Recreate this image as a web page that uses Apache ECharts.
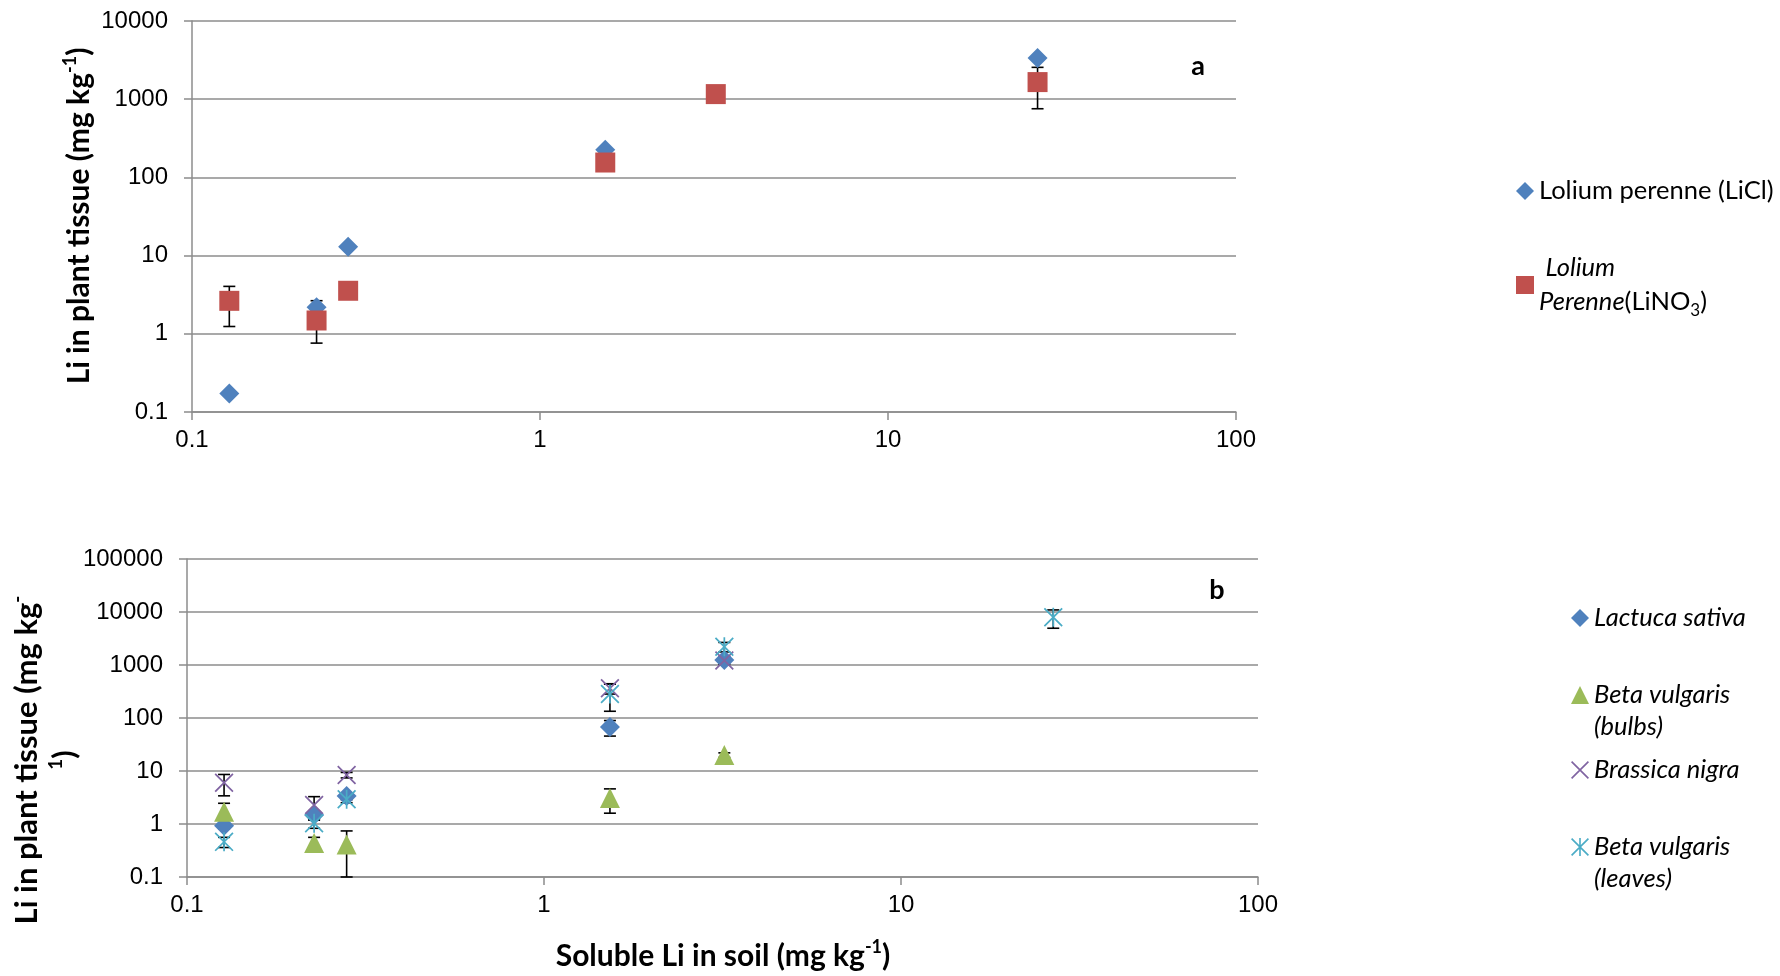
<!DOCTYPE html>
<html>
<head>
<meta charset="utf-8">
<script src="https://cdn.jsdelivr.net/npm/echarts@6/dist/echarts.min.js"></script>
<style>
html,body{margin:0;padding:0;background:#fff;}
#chart{width:1780px;height:976px;}
</style>
</head>
<body>
<div id="chart"></div>
<script>
// ---------- DATA ----------
// Panel a
const liclX = [0.128, 0.228, 0.281, 1.54, 26.9];
const liclY = [0.173, 2.19, 13.0, 225, 3355];
const liclErr = [0, 0.46, 0, 0, 0];

const lino3X = [0.128, 0.228, 0.281, 1.54, 3.2, 26.9];
const lino3Y = [2.64, 1.48, 3.55, 155, 1162, 1655];
const lino3Err = [1.4, 0.72, 0, 0, 0, 900];

// Panel b
const lactucaX = [0.127, 0.227, 0.28, 1.53, 3.2];
const lactucaY = [0.93, 1.48, 3.38, 67.6, 1242];
const lactucaErr = [0.12, 0.3, 0.5, 22, 150];

const bulbsX = [0.127, 0.227, 0.28, 1.53, 3.2];
const bulbsY = [1.7, 0.44, 0.41, 3.1, 20];
const bulbsErr = [0.76, 0.12, 0.33, 1.5, 2];

const brassicaX = [0.127, 0.227, 0.28, 1.53, 3.2];
const brassicaY = [6.0, 2.28, 8.4, 363, 1220];
const brassicaErr = [2.6, 1.0, 1.0, 80, 200];

const leavesX = [0.127, 0.227, 0.28, 1.53, 3.2, 26.7];
const leavesY = [0.46, 1.03, 2.92, 284, 2215, 7940];
const leavesErr = [0.1, 0.2, 0.4, 150, 450, 3000];

const xTickLabels = ['0.1', '1', '10', '100'];
const yTickLabelsA = ['0.1', '1', '10', '100', '1000', '10000'];
const yTickLabelsB = ['0.1', '1', '10', '100', '1000', '10000', '100000'];

// ---------- HELPERS ----------
function pts(xs, ys) { return xs.map((x, i) => [x, ys[i]]); }
function errPts(xs, ys, es) { return xs.map((x, i) => [x, ys[i], es[i]]).filter(d => d[2] > 0); }
function tickFmt(labels) {
  return function (v) {
    const k = Math.round(Math.log10(v)) + 1;
    return labels[k] !== undefined ? labels[k] : '';
  };
}
function errRender(yMin) {
  return function (params, api) {
    const x = api.value(0), y = api.value(1), e = api.value(2);
    const lo = Math.max(y - e, yMin);
    const t = api.coord([x, y + e]);
    const b = api.coord([x, lo]);
    const w = 6;
    const st = { stroke: '#000', lineWidth: 1.6 };
    return {
      type: 'group',
      children: [
        { type: 'line', shape: { x1: t[0], y1: t[1], x2: b[0], y2: b[1] }, style: st },
        { type: 'line', shape: { x1: t[0] - w, y1: t[1], x2: t[0] + w, y2: t[1] }, style: st },
        { type: 'line', shape: { x1: b[0] - w, y1: b[1], x2: b[0] + w, y2: b[1] }, style: st }
      ]
    };
  };
}

const X_PATH = 'path://M0,1.3L1.3,0L20,18.7L18.7,20Z M18.7,0L20,1.3L1.3,20L0,18.7Z';
const AST_PATH = 'path://M0,1.3L1.3,0L20,18.7L18.7,20Z M18.7,0L20,1.3L1.3,20L0,18.7Z M9.1,0L10.9,0L10.9,20L9.1,20Z';

const C = { blue: '#4F81BD', red: '#C0504D', green: '#9BBB59', purple: '#8064A2', cyan: '#4BACC6' };
const GRID_COL = '#8c8c8c';
const TICK_FONT = 'Liberation Sans';
const TXT_FONT = 'Lato';
const LEG_FS = 25.5;

function xAxisCfg(gi) {
  return {
    gridIndex: gi, type: 'log', logBase: 10, min: 0.1, max: 100,
    axisLine: { show: true, lineStyle: { color: GRID_COL, width: 1.5 } },
    axisTick: { show: true, inside: false, length: 8, lineStyle: { color: GRID_COL, width: 1.5 } },
    minorTick: { show: false },
    splitLine: { show: false },
    axisLabel: { formatter: tickFmt(xTickLabels), fontFamily: TICK_FONT, fontSize: 24, color: '#000', margin: 16 }
  };
}
function yAxisCfg(gi, max, labels) {
  return {
    gridIndex: gi, type: 'log', logBase: 10, min: 0.1, max: max,
    axisLine: { show: true, onZero: false, lineStyle: { color: GRID_COL, width: 1.5 } },
    axisTick: { show: true, inside: false, length: 8, lineStyle: { color: GRID_COL, width: 1.5 } },
    minorTick: { show: false },
    splitLine: { show: true, lineStyle: { color: GRID_COL, width: 1.5 } },
    axisLabel: { formatter: tickFmt(labels), fontFamily: TICK_FONT, fontSize: 24, color: '#000', margin: 24 }
  };
}

function legendCfg(name, left, top, fmt, lh) {
  lh = lh || 32;
  return {
    data: [name], left: left, top: top, padding: 0, orient: 'vertical',
    itemWidth: 18, itemHeight: 18, itemGap: 0, selectedMode: false,
    textStyle: {
      fontFamily: TXT_FONT, fontSize: LEG_FS, color: '#000', lineHeight: lh,
      rich: {
        i: { fontFamily: TXT_FONT, fontSize: LEG_FS, fontStyle: 'italic', color: '#000', lineHeight: lh },
        n: { fontFamily: TXT_FONT, fontSize: LEG_FS, color: '#000', lineHeight: lh },
        sub: { fontFamily: TXT_FONT, fontSize: 17, color: '#000', verticalAlign: 'bottom', lineHeight: 20 },
        e: { fontFamily: TXT_FONT, fontSize: LEG_FS, lineHeight: lh }
      }
    },
    formatter: fmt || undefined
  };
}

function titleRich(fs, lh) {
  return {
    b: { fontFamily: TXT_FONT, fontWeight: 'bold', fontSize: fs, fill: '#000', lineHeight: lh },
    s: { fontFamily: TXT_FONT, fontWeight: 'bold', fontSize: Math.round(fs * 0.6), fill: '#000', lineHeight: Math.round(fs * 0.6), verticalAlign: 'top' }
  };
}

const option = {
  animation: false,
  backgroundColor: '#fff',
  grid: [
    { left: 192, top: 21, width: 1044, height: 391 },
    { left: 187, top: 559, width: 1071, height: 318 }
  ],
  xAxis: [xAxisCfg(0), xAxisCfg(1)],
  yAxis: [yAxisCfg(0, 10000, yTickLabelsA), yAxisCfg(1, 100000, yTickLabelsB)],
  legend: [
    legendCfg('Lolium perenne (LiCl)', 1516, 175),
    legendCfg('Lolium Perenne (LiNO3)', 1516, 251, () => ' {i|Lolium}\n{i|Perenne}{n|(LiNO}{sub|3}{n|)}', 34),
    legendCfg('Lactuca sativa', 1571, 602, () => '{i|Lactuca sativa}'),
    legendCfg('Beta vulgaris (bulbs)', 1571, 647, () => '{e| }\n{i|Beta vulgaris}\n{i|(bulbs)}'),
    legendCfg('Brassica nigra', 1571, 754, () => '{i|Brassica nigra}'),
    legendCfg('Beta vulgaris (leaves)', 1571, 799, () => '{e| }\n{i|Beta vulgaris}\n{i|(leaves)}')
  ],
  graphic: [
    {
      type: 'text', x: 79, y: 216, rotation: Math.PI / 2,
      style: { text: '{b|Li in plant tissue (mg kg}{s|-1}{b|)}', textAlign: 'center', textVerticalAlign: 'middle', rich: titleRich(30, 36) }
    },
    {
      type: 'text', x: 46, y: 760, rotation: Math.PI / 2,
      style: { text: '{b|Li in plant tissue (mg kg}{s|-}\n{s|1}{b|)}', textAlign: 'center', textVerticalAlign: 'middle', rich: titleRich(31, 38) }
    },
    {
      type: 'text', x: 723, y: 956,
      style: { text: '{b|Soluble Li in soil (mg kg}{s|-1}{b|)}', textAlign: 'center', textVerticalAlign: 'middle', rich: titleRich(30, 36) }
    },
    { type: 'text', x: 1198, y: 66, style: { text: 'a', fontFamily: TXT_FONT, fontWeight: 'bold', fontSize: 27, fill: '#000', textAlign: 'center', textVerticalAlign: 'middle' } },
    { type: 'text', x: 1217, y: 590, style: { text: 'b', fontFamily: TXT_FONT, fontWeight: 'bold', fontSize: 27, fill: '#000', textAlign: 'center', textVerticalAlign: 'middle' } }
  ],
  series: [
    // error bars (under markers)
    { type: 'custom', xAxisIndex: 0, yAxisIndex: 0, z: 1, silent: true, renderItem: errRender(0.1), data: errPts(liclX, liclY, liclErr) },
    { type: 'custom', xAxisIndex: 0, yAxisIndex: 0, z: 1, silent: true, renderItem: errRender(0.1), data: errPts(lino3X, lino3Y, lino3Err) },
    { type: 'custom', xAxisIndex: 1, yAxisIndex: 1, z: 1, silent: true, renderItem: errRender(0.1), data: errPts(lactucaX, lactucaY, lactucaErr) },
    { type: 'custom', xAxisIndex: 1, yAxisIndex: 1, z: 1, silent: true, renderItem: errRender(0.1), data: errPts(bulbsX, bulbsY, bulbsErr) },
    { type: 'custom', xAxisIndex: 1, yAxisIndex: 1, z: 1, silent: true, renderItem: errRender(0.1), data: errPts(brassicaX, brassicaY, brassicaErr) },
    { type: 'custom', xAxisIndex: 1, yAxisIndex: 1, z: 1, silent: true, renderItem: errRender(0.1), data: errPts(leavesX, leavesY, leavesErr) },
    // markers
    { name: 'Lolium perenne (LiCl)', type: 'scatter', xAxisIndex: 0, yAxisIndex: 0, z: 3, symbol: 'diamond', symbolSize: 20, itemStyle: { color: C.blue, opacity: 1 }, data: pts(liclX, liclY) },
    { name: 'Lolium Perenne (LiNO3)', type: 'scatter', xAxisIndex: 0, yAxisIndex: 0, z: 3, symbol: 'rect', symbolSize: 20, itemStyle: { color: C.red, opacity: 1 }, data: pts(lino3X, lino3Y) },
    { name: 'Lactuca sativa', type: 'scatter', xAxisIndex: 1, yAxisIndex: 1, z: 3, symbol: 'diamond', symbolSize: 20, itemStyle: { color: C.blue, opacity: 1 }, data: pts(lactucaX, lactucaY) },
    { name: 'Beta vulgaris (bulbs)', type: 'scatter', xAxisIndex: 1, yAxisIndex: 1, z: 3, symbol: 'triangle', symbolSize: 20, itemStyle: { color: C.green, opacity: 1 }, data: pts(bulbsX, bulbsY) },
    { name: 'Brassica nigra', type: 'scatter', xAxisIndex: 1, yAxisIndex: 1, z: 3, symbol: X_PATH, symbolSize: 19, itemStyle: { color: C.purple, opacity: 1 }, data: pts(brassicaX, brassicaY) },
    { name: 'Beta vulgaris (leaves)', type: 'scatter', xAxisIndex: 1, yAxisIndex: 1, z: 3, symbol: AST_PATH, symbolSize: 19, itemStyle: { color: C.cyan, opacity: 1 }, data: pts(leavesX, leavesY) }
  ]
};

const chart = echarts.init(document.getElementById('chart'), null, { renderer: 'canvas' });
chart.setOption(option);
</script>
</body>
</html>
